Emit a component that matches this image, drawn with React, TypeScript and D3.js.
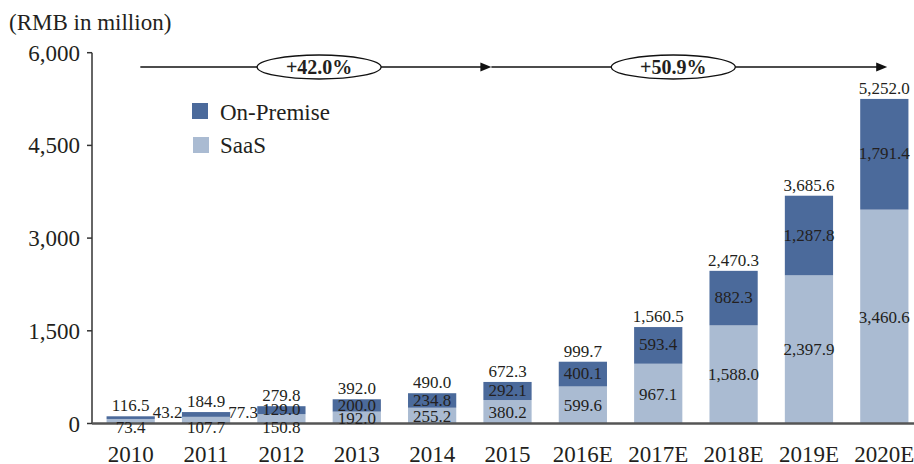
import React from "react";
import * as d3 from "d3";

const categories = ["2010", "2011", "2012", "2013", "2014", "2015", "2016E", "2017E", "2018E", "2019E", "2020E"];
const saas = [73.4, 107.7, 150.8, 192.0, 255.2, 380.2, 599.6, 967.1, 1588.0, 2397.9, 3460.6];
const onPremise = [43.2, 77.3, 129.0, 200.0, 234.8, 292.1, 400.1, 593.4, 882.3, 1287.8, 1791.4];
const totals = [116.5, 184.9, 279.8, 392.0, 490.0, 672.3, 999.7, 1560.5, 2470.3, 3685.6, 5252.0];
const yTicks = [0, 1500, 3000, 4500, 6000];
const cagrLabels = ["+42.0%", "+50.9%"];
const seriesNames = ["On-Premise", "SaaS"];

const W = 914;
const H = 464;
const DARK = "#4B6A9B";
const LIGHT = "#AABBD2";
const TEXT = "#231F20";
const FONT = "'Liberation Serif', 'Times New Roman', serif";

export default function App() {
  const x = d3.scaleBand<string>().domain(categories).range([93, 922]).paddingInner(0.36).paddingOuter(0.18);
  const y = d3.scaleLinear().domain([0, 6000]).range([423.5, 52.7]);
  const fmt = d3.format(",.1f");
  const bw = x.bandwidth();
  const y0 = y(0);
  const axisX = 92;
  const step = x.step();

  const arrowY = 67;
  const a0 = (x("2010") as number) + bw * 0.7;
  const a1 = (x("2015") as number) + 8;
  const a2 = (x("2020E") as number) + bw * 0.56;
  const e1 = ((x("2012") as number) + (x("2013") as number)) / 2 + bw / 2;
  const e2 = (x("2017E") as number) + bw / 2 + step * 0.2;

  const arrowHead = (xe: number) => `M${xe},${arrowY} L${xe - 11},${arrowY - 4.5} L${xe - 11},${arrowY + 4.5} Z`;

  return (
    <svg width={W} height={H} style={{ position: "absolute", left: 0, top: 0, background: "#fff" }} fontFamily={FONT}>
      <rect x={0} y={0} width={W} height={H} fill="#fff" />
      <text x={9} y={30} fontSize={23} fill={TEXT}>(RMB in million)</text>

      {/* y axis */}
      <line x1={axisX} x2={axisX} y1={y(6000)} y2={y0} stroke="#333" strokeWidth={1.5} />
      {yTicks.map((t) => (
        <g key={t}>
          <line x1={axisX - 5} x2={axisX} y1={y(t)} y2={y(t)} stroke="#333" strokeWidth={1.5} />
          <text x={80} y={y(t)} dy="0.35em" textAnchor="end" fontSize={23} fill={TEXT}>
            {d3.format(",")(t)}
          </text>
        </g>
      ))}

      {/* bars */}
      {categories.map((c, i) => {
        const bx = x(c) as number;
        const ys = y(saas[i]);
        const yt = y(saas[i] + onPremise[i]);
        return (
          <g key={c}>
            <rect x={bx} y={ys} width={bw} height={y0 - ys} fill={LIGHT} />
            <rect x={bx} y={yt} width={bw} height={ys - yt} fill={DARK} />
          </g>
        );
      })}

      {/* baseline */}
      <line x1={axisX} x2={W} y1={y0} y2={y0} stroke="#555" strokeWidth={2.5} />

      {/* labels */}
      {categories.map((c, i) => {
        const bx = x(c) as number;
        const cx = bx + bw / 2;
        const ys = y(saas[i]);
        const yt = y(totals[i]);
        const ytop = y(saas[i] + onPremise[i]);
        const opH = ys - ytop;
        const sH = y0 - ys;
        return (
          <g key={c} fontSize={17} fill={TEXT}>
            <text x={cx} y={yt - 5} textAnchor="middle">{fmt(totals[i])}</text>
            {opH < 6 ? (
              <text x={bx + bw - 2} y={y0 - 5.5} textAnchor="start">{fmt(onPremise[i])}</text>
            ) : (
              <text x={cx} y={(ys + ytop) / 2} dy="0.3em" textAnchor="middle">{fmt(onPremise[i])}</text>
            )}
            {sH < 10 ? (
              <text x={cx} y={y0 + 9.5} textAnchor="middle">{fmt(saas[i])}</text>
            ) : (
              <text x={cx} y={(ys + y0) / 2} dy="0.35em" textAnchor="middle">{fmt(saas[i])}</text>
            )}
            <text x={cx} y={462} textAnchor="middle" fontSize={23}>{c}</text>
          </g>
        );
      })}

      {/* growth arrows */}
      <line x1={a0} x2={a1 - 8} y1={arrowY} y2={arrowY} stroke="#111" strokeWidth={1.3} />
      <path d={arrowHead(a1)} fill="#111" />
      <line x1={a1} x2={a2 - 8} y1={arrowY} y2={arrowY} stroke="#111" strokeWidth={1.3} />
      <path d={arrowHead(a2)} fill="#111" />
      {[e1, e2].map((ex, k) => (
        <g key={k}>
          <ellipse cx={ex} cy={arrowY} rx={62} ry={12} fill="#fff" stroke="#111" strokeWidth={1.3} />
          <text x={ex} y={arrowY} dy="0.35em" textAnchor="middle" fontSize={20} fontWeight="bold" fill={TEXT}>
            {cagrLabels[k]}
          </text>
        </g>
      ))}

      {/* legend */}
      <rect x={192} y={103} width={16} height={16} fill={DARK} />
      <text x={220} y={120} fontSize={23} fill={TEXT}>{seriesNames[0]}</text>
      <rect x={193} y={137} width={16} height={16} fill={LIGHT} />
      <text x={220} y={153} fontSize={23} fill={TEXT}>{seriesNames[1]}</text>
    </svg>
  );
}
